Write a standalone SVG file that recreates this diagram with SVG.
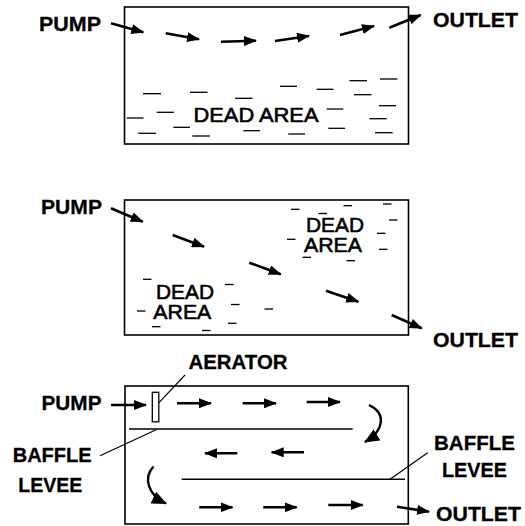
<svg xmlns="http://www.w3.org/2000/svg" width="525" height="526" viewBox="0 0 525 526">
<defs>
<marker id="ah" markerUnits="userSpaceOnUse" markerWidth="13" markerHeight="10" refX="12" refY="5" orient="auto">
<path d="M0,0 L13,5 L0,10 z" fill="#000"/>
</marker>
<marker id="ahc" markerUnits="userSpaceOnUse" markerWidth="15" markerHeight="13" refX="14" refY="6.5" orient="auto">
<path d="M0,0 L15,6.5 L0,13 z" fill="#000"/>
</marker>
<style>
.box{fill:none;stroke:#000;stroke-width:1.6}
.lbl{font-family:"Liberation Sans",Arial,sans-serif;font-weight:bold;font-size:21px;fill:#000;stroke:#000;stroke-width:0.3}
.dead{font-family:"Liberation Sans",Arial,sans-serif;font-size:21px;fill:#000;stroke:#000;stroke-width:0.6}
.arr{fill:none;stroke:#000;stroke-width:2.6;marker-end:url(#ah)}
.carr{fill:none;stroke:#000;stroke-width:2.4;marker-end:url(#ahc)}
.dash{stroke:#000;stroke-width:1.3}
.thin{stroke:#000;stroke-width:1.2;fill:none}
.baffle{stroke:#000;stroke-width:1.6}
</style>
</defs>
<rect width="525" height="526" fill="#fff"/>

<!-- Panel 1 -->
<g id="panel1">
<rect class="box" x="124.5" y="7" width="284" height="137"/>
<g class="dash">
<line x1="143" y1="93.7" x2="161" y2="93.7"/>
<line x1="190" y1="92.3" x2="207.5" y2="92.3"/>
<line x1="235" y1="98.3" x2="252.5" y2="98.3"/>
<line x1="280" y1="86.3" x2="297" y2="86.3"/>
<line x1="316.7" y1="89.3" x2="333.5" y2="89.3"/>
<line x1="349.5" y1="80.7" x2="367" y2="80.7"/>
<line x1="380" y1="79" x2="397.5" y2="79"/>
<line x1="354" y1="94.7" x2="371.5" y2="94.7"/>
<line x1="126.7" y1="118" x2="143.5" y2="118"/>
<line x1="156.7" y1="112.3" x2="174" y2="112.3"/>
<line x1="173.3" y1="127.3" x2="190" y2="127.3"/>
<line x1="138.3" y1="133.3" x2="156" y2="133.3"/>
<line x1="192.3" y1="136" x2="210" y2="136"/>
<line x1="243.3" y1="130.7" x2="260" y2="130.7"/>
<line x1="288.3" y1="134" x2="305" y2="134"/>
<line x1="326.7" y1="109" x2="343.3" y2="109"/>
<line x1="328.3" y1="128.3" x2="345" y2="128.3"/>
<line x1="379" y1="105.7" x2="396" y2="105.7"/>
<line x1="369.3" y1="118.7" x2="386.7" y2="118.7"/>
<line x1="375" y1="132.7" x2="392.7" y2="132.7"/>
</g>
<text class="dead" x="193.5" y="121.7" textLength="125" lengthAdjust="spacingAndGlyphs">DEAD AREA</text>
</g>
<g id="pump1"><text class="lbl" x="39" y="31" textLength="62" lengthAdjust="spacingAndGlyphs">PUMP</text></g>
<g id="outlet1"><text class="lbl" x="433" y="27" textLength="85" lengthAdjust="spacingAndGlyphs">OUTLET</text></g>

<!-- Panel 2 -->
<g id="panel2">
<rect class="box" x="124.5" y="200" width="284" height="135"/>
<g class="dash">
<line x1="291" y1="209.3" x2="299.5" y2="209.3"/>
<line x1="318.5" y1="213.5" x2="327" y2="213.5"/>
<line x1="343.5" y1="205.7" x2="352" y2="205.7"/>
<line x1="383" y1="204" x2="391.5" y2="204"/>
<line x1="389" y1="220" x2="397.5" y2="220"/>
<line x1="287" y1="239.3" x2="295.5" y2="239.3"/>
<line x1="377" y1="233.3" x2="385.5" y2="233.3"/>
<line x1="379" y1="249.3" x2="387.5" y2="249.3"/>
<line x1="302.5" y1="257.3" x2="311" y2="257.3"/>
<line x1="346.5" y1="260.7" x2="355" y2="260.7"/>
<line x1="143" y1="279.3" x2="151.5" y2="279.3"/>
<line x1="225" y1="284.5" x2="233.5" y2="284.5"/>
<line x1="231" y1="304.5" x2="239.5" y2="304.5"/>
<line x1="264.5" y1="309" x2="273" y2="309"/>
<line x1="137" y1="311" x2="145.5" y2="311"/>
<line x1="228" y1="323.3" x2="236.5" y2="323.3"/>
<line x1="152" y1="326.7" x2="160.5" y2="326.7"/>
<line x1="202" y1="330.5" x2="210.5" y2="330.5"/>
</g>
<g id="dead2a">
<text class="dead" x="306" y="231.7" textLength="58" lengthAdjust="spacingAndGlyphs">DEAD</text>
<text class="dead" x="304" y="251.7" textLength="58" lengthAdjust="spacingAndGlyphs">AREA</text>
</g>
<g id="dead2b">
<text class="dead" x="156" y="299.3" textLength="58" lengthAdjust="spacingAndGlyphs">DEAD</text>
<text class="dead" x="153.3" y="319.3" textLength="58" lengthAdjust="spacingAndGlyphs">AREA</text>
</g>
</g>
<g id="pump2"><text class="lbl" x="41" y="213.5" textLength="61" lengthAdjust="spacingAndGlyphs">PUMP</text></g>
<g id="outlet2"><text class="lbl" x="433" y="346.5" textLength="85" lengthAdjust="spacingAndGlyphs">OUTLET</text></g>

<!-- Panel 3 -->
<g id="panel3">
<rect class="box" x="125" y="386" width="283.3" height="138"/>
<line class="baffle" x1="129" y1="429" x2="352.7" y2="429"/>
<line class="baffle" x1="181.7" y1="479.3" x2="405" y2="479.3"/>
</g>
<g id="aerator">
<rect x="152.3" y="392.3" width="6.5" height="29.5" fill="#fff" stroke="#000" stroke-width="1.3"/>
</g>
<g id="aerator-label"><text class="lbl" x="188.5" y="369.3" textLength="99" lengthAdjust="spacingAndGlyphs">AERATOR</text></g>
<g id="pump3"><text class="lbl" x="41.5" y="410" textLength="60" lengthAdjust="spacingAndGlyphs">PUMP</text></g>
<g id="baffle-left">
<text class="lbl" x="12.7" y="461.7" textLength="79" lengthAdjust="spacingAndGlyphs">BAFFLE</text>
<text class="lbl" x="18.3" y="491.7" textLength="64" lengthAdjust="spacingAndGlyphs">LEVEE</text>
</g>
<g id="baffle-right">
<text class="lbl" x="434" y="450" textLength="81" lengthAdjust="spacingAndGlyphs">BAFFLE</text>
<text class="lbl" x="442" y="477.3" textLength="65" lengthAdjust="spacingAndGlyphs">LEVEE</text>
</g>
<g id="outlet3"><text class="lbl" x="436" y="521" textLength="85" lengthAdjust="spacingAndGlyphs">OUTLET</text></g>

<!-- Connectors -->
<g id="connectors">
<line class="arr" x1="111" y1="23.3" x2="143.3" y2="32.3"/>
<line class="arr" x1="165.7" y1="33.3" x2="199" y2="39.3"/>
<line class="arr" x1="221" y1="41.7" x2="256" y2="40.7"/>
<line class="arr" x1="275" y1="41" x2="309" y2="36"/>
<line class="arr" x1="340" y1="35" x2="374" y2="26"/>
<line class="arr" x1="389.3" y1="27.7" x2="420.7" y2="15"/>

<line class="arr" x1="111" y1="208.3" x2="142.7" y2="221.7"/>
<line class="arr" x1="172.7" y1="235" x2="204" y2="246.7"/>
<line class="arr" x1="249.3" y1="262.7" x2="280.7" y2="274.3"/>
<line class="arr" x1="326" y1="290.7" x2="358.3" y2="301.7"/>
<line class="arr" x1="391.7" y1="315" x2="421.7" y2="328.3"/>

<line class="arr" x1="111" y1="405" x2="146" y2="405"/>
<line class="arr" x1="177" y1="403.3" x2="211" y2="403.3"/>
<line class="arr" x1="242.7" y1="403.3" x2="276" y2="403.3"/>
<line class="arr" x1="306.7" y1="402" x2="340" y2="402"/>
<path class="carr" d="M369,405 C386,413 385,430 365,442"/>
<line class="arr" x1="237.3" y1="453.3" x2="205" y2="453.3"/>
<line class="arr" x1="304" y1="452.3" x2="271.7" y2="452.3"/>
<path class="carr" d="M153.5,466.5 C143,478 148,495 166,503.5"/>
<line class="arr" x1="199.3" y1="507.3" x2="232.5" y2="507.3"/>
<line class="arr" x1="263.3" y1="507.3" x2="296.7" y2="507.3"/>
<line class="arr" x1="328.3" y1="505" x2="362.7" y2="505"/>
<line class="arr" x1="397" y1="506.7" x2="429" y2="511.7"/>

<line class="thin" x1="159" y1="402.7" x2="185" y2="375"/>
<line class="thin" x1="100" y1="455.7" x2="156.7" y2="429.5"/>
<line class="thin" x1="390" y1="479.3" x2="427.7" y2="452.7"/>
</g>
</svg>
